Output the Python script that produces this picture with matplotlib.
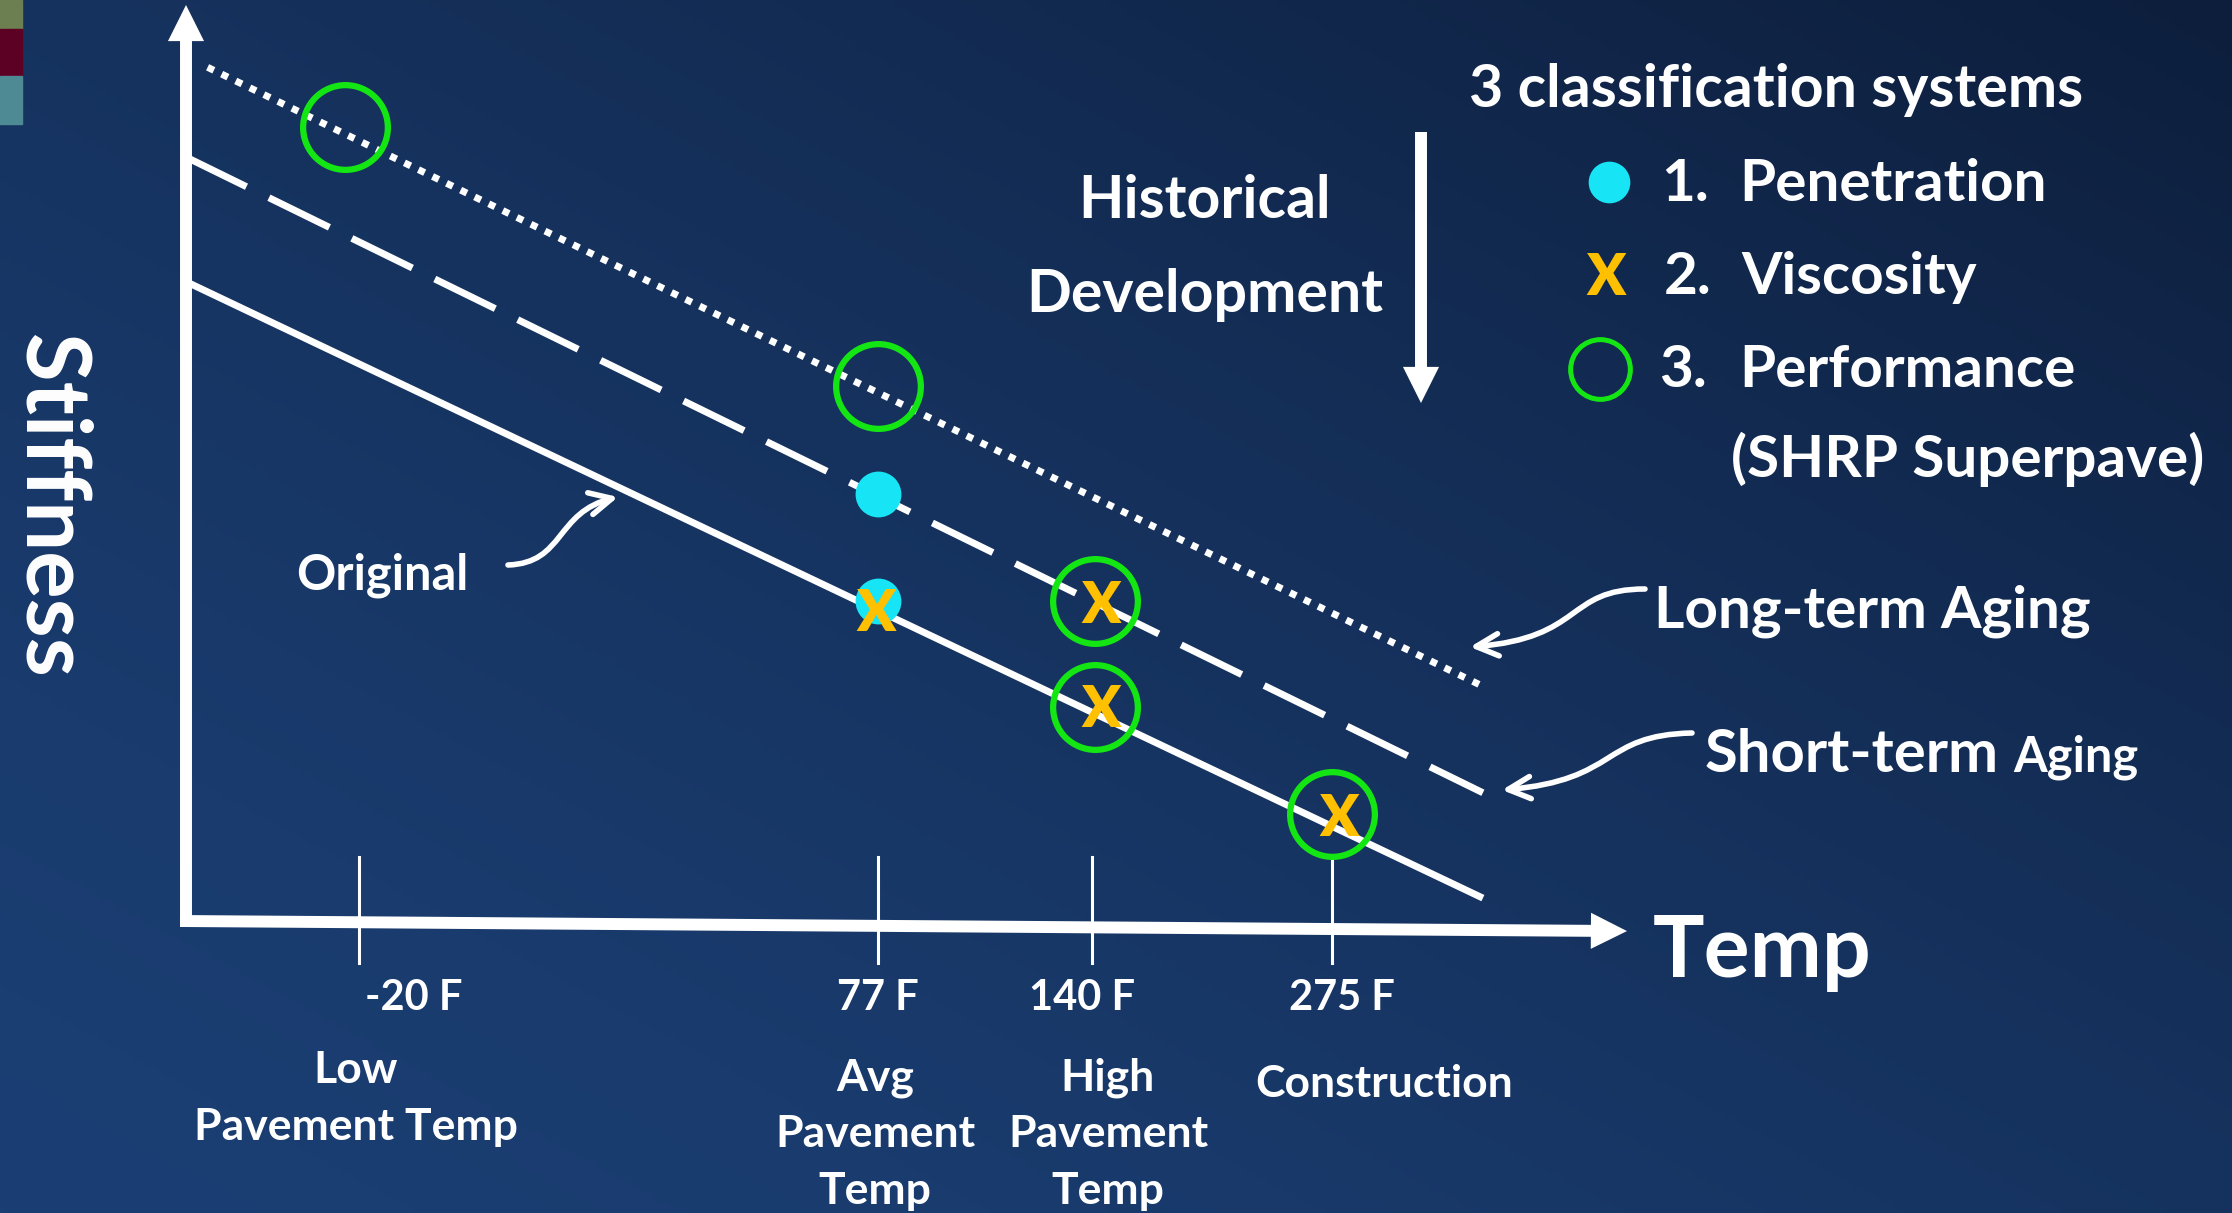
import numpy as np
import matplotlib.pyplot as plt
from matplotlib.patches import FancyArrowPatch, Rectangle
from matplotlib.path import Path

plt.rcParams['font.family'] = ['Lato', 'DejaVu Sans']
plt.rcParams['font.weight'] = 'bold'

W, H, DPI = 2232, 1213, 100

# ---- data (temperature position 0-100 along x, stiffness 0-100 along y) ----
temp_ticks = [12.0, 48.0, 62.9, 79.5]
temp_labels = ['-20 F', '77 F', '140 F', '275 F']
temp_desc = ['Low\nPavement Temp', 'Avg\nPavement\nTemp',
             'High\nPavement\nTemp', 'Construction']

line_x = [0.0, 90.0]
original = [69.8, 2.5]
short_term = [83.4, 14.0]
long_x = [1.5, 89.9]
long_term = [93.2, 25.7]

pen_x = [48.0, 48.0]            # penetration (cyan dots)
pen_y = [46.6, 34.9]
visc_x = [47.9, 63.5, 63.5, 80.0]   # viscosity (gold X)
visc_y = [33.8, 34.7, 23.4, 11.5]
perf_x = [11.0, 48.0, 63.1, 63.1, 79.5]  # performance (green rings)
perf_y = [86.7, 58.4, 34.9, 23.4, 11.7]

CYAN = '#17E5F5'
GOLD = '#FFC000'
GREEN = '#14E614'
WHITE = 'white'

fig = plt.figure(figsize=(W / DPI, H / DPI), dpi=DPI)

# background layer in pixel units (y down)
bg = fig.add_axes([0, 0, 1, 1])
bg.set_xlim(0, W)
bg.set_ylim(H, 0)
bg.axis('off')

yy, xx = np.mgrid[0:1:240j, 0:1:400j]
t = (0.5 * xx + 0.5 * (1 - yy)) ** 1.4
c0 = np.array([0x1b, 0x3f, 0x74]) / 255
c1 = np.array([0x0d, 0x1e, 0x3c]) / 255
img = c0 * (1 - t[..., None]) + c1 * t[..., None]
bg.imshow(img, extent=(0, W, H, 0), aspect='auto', zorder=0)

# slide decoration squares
bg.add_patch(Rectangle((0, 0), 22, 29, color='#6B7F50', zorder=1))
bg.add_patch(Rectangle((0, 29), 22, 47, color='#5C0024', zorder=1))
bg.add_patch(Rectangle((0, 76), 22, 48, color='#4E8A94', zorder=1))

# ---- chart axes ----
x0, y0, xw, yh = 186, 921, 1441, 916
ax = fig.add_axes([x0 / W, (H - y0) / H, xw / W, yh / H])
ax.set_xlim(0, 100)
ax.set_ylim(0, 100)
ax.axis('off')
ax.patch.set_visible(False)

arrow_kw = dict(arrowstyle='simple,head_width=26,head_length=26,tail_width=8.6',
                mutation_scale=1, fc=WHITE, ec='none', shrinkA=0, shrinkB=0)
ax.annotate('', xy=(0, 100), xytext=(0, -0.65), arrowprops=arrow_kw,
            annotation_clip=False)
ax.annotate('', xy=(100, -1.1), xytext=(-0.4, 0), arrowprops=arrow_kw,
            annotation_clip=False)

for tx in temp_ticks:
    ax.plot([tx, tx], [7.0, -4.6], color=WHITE, lw=2.2, clip_on=False)

ax.plot(line_x, original, color=WHITE, lw=5, solid_capstyle='butt', clip_on=False)
ax.plot(line_x, short_term, color=WHITE, lw=5, linestyle=(0, (9.7, 3.6)),
        dash_capstyle='butt', clip_on=False)
ax.plot(long_x, long_term, color=WHITE, lw=5, linestyle=(0, (1, 1.25)),
        dash_capstyle='butt', clip_on=False)

ax.plot(pen_x, pen_y, 'o', ms=33, color=CYAN, mec='none', zorder=4, clip_on=False)
ax.plot(perf_x, perf_y, 'o', ms=61, mfc='none', mec=GREEN, mew=4.5, zorder=6,
        clip_on=False)
x_drop = 20 / (yh / 100)
for vx, vy in zip(visc_x, visc_y):
    ax.text(vx, vy - x_drop, 'X', color=GOLD, fontsize=41, fontweight='heavy',
            ha='center', va='baseline', zorder=5)

# ---- texts ----
txt = dict(color=WHITE, fontweight='bold')
bg.text(50, 506, 'Stiffness', rotation=270, fontsize=64, ha='center', va='center', **txt)
bg.text(1653, 977, 'Temp', fontsize=62, ha='left', va='baseline', **txt)

label_x = [414, 878, 1082, 1342]
for lx, lab in zip(label_x, temp_labels):
    bg.text(lx, 1010, lab, fontsize=30, ha='center', va='baseline', **txt)

desc_x = [356, 875, 1108, 1384]
desc_base = [1083, 1090, 1090, 1097]
for dx, db, desc in zip(desc_x, desc_base, temp_desc):
    for i, part in enumerate(desc.split('\n')):
        bg.text(dx, db + i * 57, part, fontsize=32, ha='center', va='baseline', **txt)

bg.text(296, 589, 'Original', fontsize=35, ha='left', va='baseline', **txt)
bg.text(1205, 218, 'Historical', fontsize=42.5, ha='center', va='baseline', **txt)
bg.text(1205, 312, 'Development', fontsize=42.5, ha='center', va='baseline', **txt)
bg.annotate('', xy=(1421, 403), xytext=(1421, 132), arrowprops=arrow_kw)

bg.text(1469, 107, '3 classification systems', fontsize=42.5, va='baseline', **txt)
bg.plot([1609], [182], 'o', ms=30, color=CYAN, mec='none')
bg.text(1606, 295, 'X', color=GOLD, fontsize=41, fontweight='heavy', ha='center',
        va='baseline')
bg.plot([1600], [369], 'o', ms=43, mfc='none', mec=GREEN, mew=3.6)
for num, word, nx, wx, base in [('1.', 'Penetration', 1661, 1739, 201),
                                 ('2.', 'Viscosity', 1664, 1741, 294),
                                 ('3.', 'Performance', 1659, 1739, 387)]:
    bg.text(nx, base, num, fontsize=42, va='baseline', **txt)
    bg.text(wx, base, word, fontsize=42, va='baseline', **txt)
bg.text(1731, 477, '(SHRP Superpave)', fontsize=42, va='baseline', **txt)

bg.text(1654, 627, 'Long-term Aging', fontsize=42, va='baseline', **txt)
short = bg.text(1705, 772, 'Short-term', fontsize=43, va='baseline', **txt)

fig.canvas.draw()
bb = short.get_window_extent(fig.canvas.get_renderer())
x_end = bg.transData.inverted().transform((bb.x1, bb.y0))[0]
bg.text(x_end + 14, 772, 'Aging', fontsize=35, va='baseline', **txt)


def curvy(p0, p1, p2, p3):
    path = Path([p0, p1, p2, p3], [Path.MOVETO, Path.CURVE4, Path.CURVE4, Path.CURVE4])
    bg.add_patch(FancyArrowPatch(path=path, arrowstyle='->,head_length=0.4,head_width=0.2',
                                 mutation_scale=40, lw=4, color=WHITE, zorder=3))


curvy((508, 565), (565, 563), (555, 512), (618, 497))
curvy((1645, 589), (1565, 589), (1585, 638), (1470, 647))
curvy((1692, 733), (1600, 735), (1620, 780), (1502, 790))

fig.savefig('out.png', dpi=DPI)
